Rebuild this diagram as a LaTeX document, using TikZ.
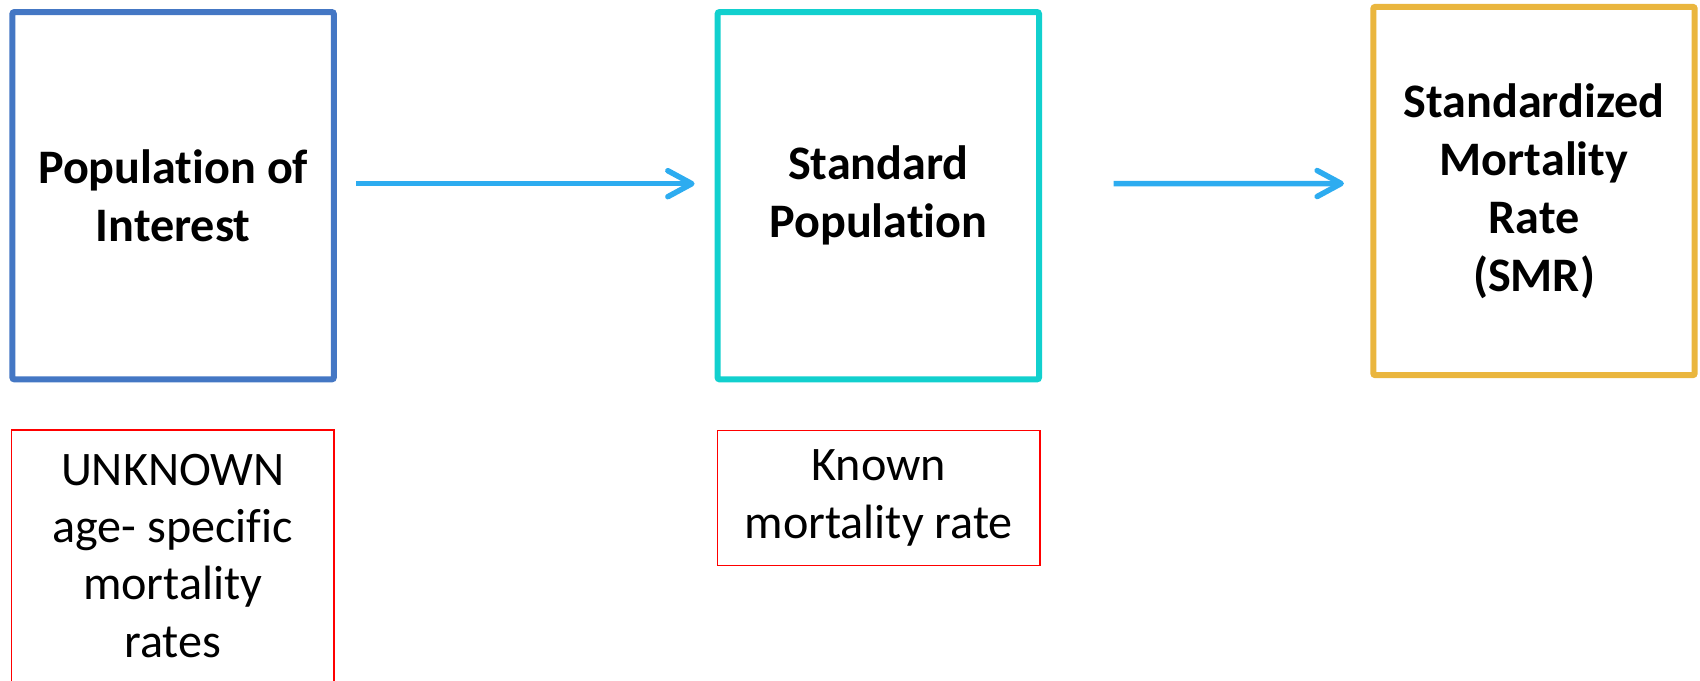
\documentclass[tikz,border=0pt]{standalone}
\usepackage{fontspec}
\setmainfont{Carlito}[Ligatures=NoCommon]
\usetikzlibrary{arrows.meta}
\definecolor{popblue}{RGB}{68,119,196}
\definecolor{stdcyan}{RGB}{18,208,206}
\definecolor{smrgold}{RGB}{234,182,62}
\definecolor{flowblue}{RGB}{45,172,240}
\begin{document}
\begin{tikzpicture}[
    bigbox/.style={draw, line width=0.06cm, rounded corners=0.02cm,
      minimum width=3.214cm, minimum height=3.673cm, inner sep=0pt,
      align=center, font=\fontsize{13.7}{16.5}\selectfont\bfseries},
    notebox/.style={draw=red, line width=0.015cm, minimum width=3.222cm,
      align=center, font=\fontsize{13.7}{16.3}\selectfont},
    flow/.style={draw=flowblue, line width=0.055cm,
      -{Straight Barb[length=0.24cm,width=0.26cm,line cap=round,line join=round]}}
  ]
      \useasboundingbox (0,0) rectangle (17,6.8);
      \draw
        (1.731,4.843) node[bigbox, draw=popblue] (pop){Population of\\Interest}
        (8.783,4.843) node[bigbox, draw=stdcyan] (std){Standard\\Population}
        (15.34,4.89) node[bigbox, draw=smrgold, minimum height=3.683cm] (smr){Standardized\\Mortality\\Rate\\(SMR)};
      \draw
        (1.727,2.507) node[notebox, anchor=north, inner ysep=0.24cm] (unk){UNKNOWN\\age- specific\\mortality\\rates}
        (8.787,1.821) node[notebox, minimum height=1.348cm] (known){Known\\mortality rate};
      \begin{scope}[flow]
        \draw ([shift={(0.195,0.12)}]pop.east) to ([shift={(-0.2,0.12)}]std.west);
        \draw ([shift={(0.717,0.12)}]std.east) to ([shift={(-0.264,0.075)}]smr.west);
      \end{scope}
    \end{tikzpicture}
\end{document}
